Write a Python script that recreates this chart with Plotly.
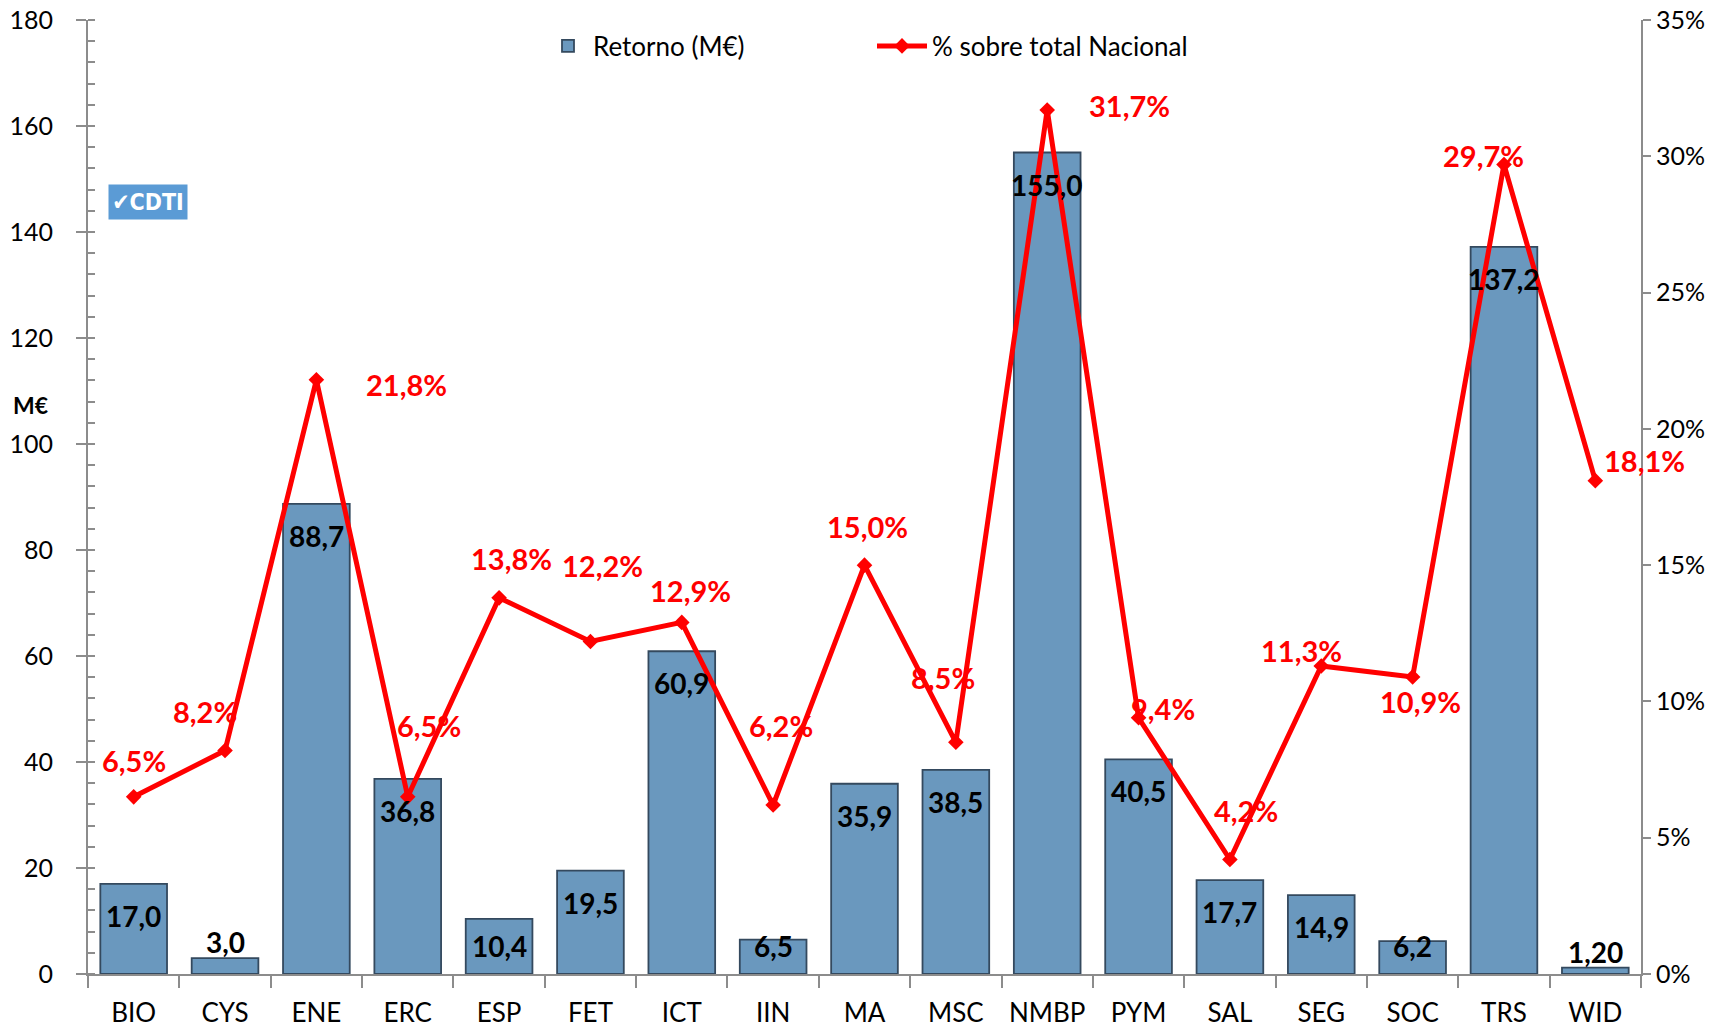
import plotly.graph_objects as go

# Programme areas and their values
areas = ["BIO", "CYS", "ENE", "ERC", "ESP", "FET", "ICT", "IIN", "MA", "MSC",
         "NMBP", "PYM", "SAL", "SEG", "SOC", "TRS", "WID"]
retorno = [17.0, 3.0, 88.7, 36.8, 10.4, 19.5, 60.9, 6.5, 35.9, 38.5,
           155.0, 40.5, 17.7, 14.9, 6.2, 137.2, 1.20]
retorno_decimals = [1, 1, 1, 1, 1, 1, 1, 1, 1, 1, 1, 1, 1, 1, 1, 1, 2]
pct_nacional = [6.5, 8.2, 21.8, 6.5, 13.8, 12.2, 12.9, 6.2, 15.0, 8.5,
                31.7, 9.4, 4.2, 11.3, 10.9, 29.7, 18.1]

# Pixel offsets of the percentage labels relative to each point (dx, dy; dy down)
pct_label_offsets = [(0, -36), (-20, -39), (90, 5), (21, -71), (12, -39), (12, -76),
                     (9, -32), (8, -80), (3, -39), (-13, -65), (82, -4), (24, -9),
                     (16, -49), (-20, -15), (8, 25), (-20, -9), (49, -20)]

FONT = "Lato"
W, H = 1719, 1028
M_L, M_R, M_T, M_B = 88, 78, 20, 54
PLOT_W = W - M_L - M_R
PLOT_H = H - M_T - M_B
Y_MAX = 180
px_per_unit = PLOT_H / Y_MAX


def paper_x(px):
    return (px - M_L) / PLOT_W


def paper_y(py):
    return 1 - (py - M_T) / PLOT_H


fig = go.Figure()

fig.add_trace(go.Bar(
    x=areas, y=retorno, name="Retorno (M€)",
    width=0.73,
    marker=dict(color="#6A98BE", line=dict(color="#34495E", width=1.8)),
    legend="legend", showlegend=True,
))

fig.add_trace(go.Scatter(
    x=areas, y=[p / 100 for p in pct_nacional], name="% sobre total Nacional",
    mode="lines+markers", yaxis="y2",
    line=dict(color="#FF0000", width=5),
    marker=dict(symbol="diamond", size=12, color="#FF0000"),
    legend="legend2", showlegend=True,
))

annotations = []

# Value labels for bars
for a, v, d in zip(areas, retorno, retorno_decimals):
    txt = f"{v:.{d}f}".replace(".", ",")
    if v < 5:
        y, shift = v, 16
    else:
        y, shift = max(v - 32 / px_per_unit, 28 / px_per_unit), 0
    annotations.append(dict(
        x=a, y=y, yref="y", xref="x", text=f"<b>{txt}</b>", showarrow=False,
        yshift=shift, font=dict(family=FONT, size=28, color="black"),
    ))

# Percentage labels for the line
for a, p, (dx, dy) in zip(areas, pct_nacional, pct_label_offsets):
    txt = f"{p:.1f}%".replace(".", ",")
    annotations.append(dict(
        x=a, y=p / 100, yref="y2", xref="x", text=f"<b>{txt}</b>", showarrow=False,
        xshift=dx, yshift=-dy, font=dict(family=FONT, size=29, color="#FF0000"),
    ))

# Axis unit label
annotations.append(dict(
    x=paper_x(30), y=paper_y(405), xref="paper", yref="paper", text="<b>M€</b>",
    xanchor="center", yanchor="middle",
    showarrow=False, font=dict(family=FONT, size=23, color="black"),
))

# CDTI badge
annotations.append(dict(
    x=paper_x(148), y=paper_y(202), xref="paper", yref="paper",
    xanchor="center", yanchor="middle",
    text="<b>✔CDTI</b>", showarrow=False, bgcolor="#5B9BD5",
    font=dict(family="DejaVu Sans Condensed", size=23, color="white"),
    borderpad=2, width=74, height=30,
))

axis_col = "#8C8C8C"

fig.update_layout(
    width=W, height=H,
    margin=dict(l=M_L, r=M_R, t=M_T, b=M_B, pad=0, autoexpand=False),
    plot_bgcolor="white", paper_bgcolor="white",
    font=dict(family=FONT, size=26, color="black"),
    showlegend=True,
    xaxis=dict(
        type="category", range=[-0.5, len(areas) - 0.5],
        showline=True, linecolor=axis_col, linewidth=2,
        ticks="outside", tickson="boundaries", ticklen=12, tickcolor=axis_col, tickwidth=2,
        showgrid=False, tickfont=dict(size=26), tickangle=0,
        ticklabelstandoff=15, automargin=False,
    ),
    yaxis=dict(
        range=[0, Y_MAX], dtick=20, showline=True, linecolor=axis_col, linewidth=2,
        ticks="outside", ticklen=10, tickcolor=axis_col, tickwidth=2,
        showgrid=False, zeroline=False, tickfont=dict(size=25), automargin=False,
        minor=dict(dtick=4, ticks="inside", ticklen=7, tickcolor=axis_col, tickwidth=2),
        ticklabelstandoff=18,
    ),
    yaxis2=dict(
        range=[0, 0.35], dtick=0.05, tickformat=".0%", overlaying="y", side="right",
        showline=True, linecolor=axis_col, linewidth=2,
        ticks="outside", ticklen=8, tickcolor=axis_col, tickwidth=2, automargin=False,
        showgrid=False, zeroline=False, tickfont=dict(size=25),
    ),
    legend=dict(
        x=paper_x(543), y=paper_y(46),
        xanchor="left", yanchor="middle", orientation="h",
        font=dict(family=FONT, size=26), bgcolor="rgba(0,0,0,0)", itemwidth=40,
    ),
    legend2=dict(
        x=paper_x(872), y=paper_y(46),
        xanchor="left", yanchor="middle", orientation="h",
        font=dict(family=FONT, size=26), bgcolor="rgba(0,0,0,0)", itemwidth=50,
    ),
    annotations=annotations,
)

fig.write_html("out.html")
